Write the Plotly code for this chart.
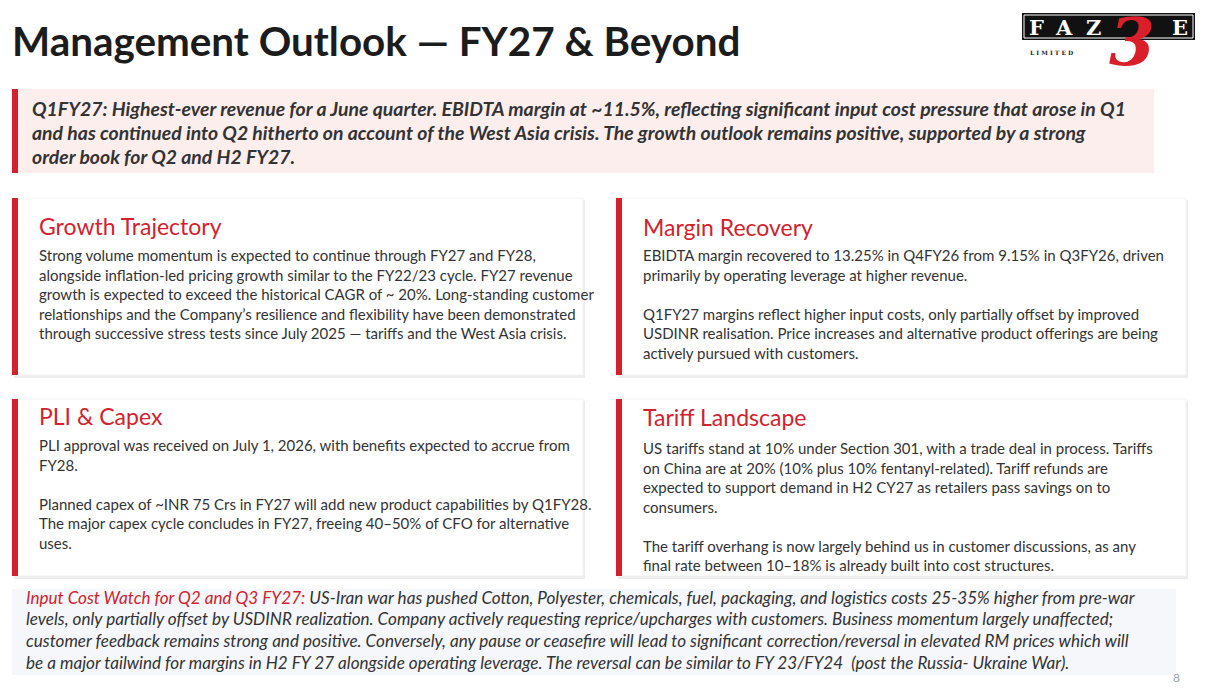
import plotly.graph_objects as go

W, H = 1205, 690

TITLE = "Management Outlook \u2014 FY27 & Beyond"
PAGE_NO = "8"

HIGHLIGHT_LINES = [
    "Q1FY27: Highest-ever revenue for a June quarter. EBIDTA margin at ~11.5%, reflecting significant input cost pressure that arose in Q1",
    "and has continued into Q2 hitherto on account of the West Asia crisis. The growth outlook remains positive, supported by a strong",
    "order book for Q2 and H2 FY27.",
]

CARD_TITLES = ["Growth Trajectory", "Margin Recovery", "PLI & Capex", "Tariff Landscape"]

CARD_LINES = [
    [
        "Strong volume momentum is expected to continue through FY27 and FY28,",
        "alongside inflation-led pricing growth similar to the FY22/23 cycle. FY27 revenue",
        "growth is expected to exceed the historical CAGR of ~ 20%. Long-standing customer",
        "relationships and the Company\u2019s resilience and flexibility have been demonstrated",
        "through successive stress tests since July 2025 \u2014 tariffs and the West Asia crisis.",
    ],
    [
        "EBIDTA margin recovered to 13.25% in Q4FY26 from 9.15% in Q3FY26, driven",
        "primarily by operating leverage at higher revenue.",
        "",
        "Q1FY27 margins reflect higher input costs, only partially offset by improved",
        "USDINR realisation. Price increases and alternative product offerings are being",
        "actively pursued with customers.",
    ],
    [
        "PLI approval was received on July 1, 2026, with benefits expected to accrue from",
        "FY28.",
        "",
        "Planned capex of ~INR 75 Crs in FY27 will add new product capabilities by Q1FY28.",
        "The major capex cycle concludes in FY27, freeing 40\u201350% of CFO for alternative",
        "uses.",
    ],
    [
        "US tariffs stand at 10% under Section 301, with a trade deal in process. Tariffs",
        "on China are at 20% (10% plus 10% fentanyl-related). Tariff refunds are",
        "expected to support demand in H2 CY27 as retailers pass savings on to",
        "consumers.",
        "",
        "The tariff overhang is now largely behind us in customer discussions, as any",
        "final rate between 10\u201318% is already built into cost structures.",
    ],
]

FOOT_LEAD = "Input Cost Watch for Q2 and Q3 FY27:"
FOOT_LINES = [
    " US-Iran war has pushed Cotton, Polyester, chemicals, fuel, packaging, and logistics costs 25-35% higher from pre-war",
    "levels, only partially offset by USDINR realization. Company actively requesting reprice/upcharges with customers. Business momentum largely unaffected;",
    "customer feedback remains strong and positive. Conversely, any pause or ceasefire will lead to significant correction/reversal in elevated RM prices which will",
    "be a major tailwind for margins in H2 FY 27 alongside operating leverage. The reversal can be similar to FY 23/FY24  (post the Russia- Ukraine War).",
]

LOGO_LETTERS = ["F", "A", "Z", "E"]
LOGO_SUB = "L I M I T E D"
LOGO_NUM = "3"

RED = "#d1222e"
TXT = "#333333"
FONT = "Lato"

fig = go.Figure()
shapes = []
ann = []


def rect(x0, y0, x1, y1, fill, line=None, lw=0):
    shapes.append(dict(type="rect", xref="x", yref="y", x0=x0, y0=y0, x1=x1, y1=y1,
                       fillcolor=fill, line=dict(width=lw, color=line or fill), layer="below"))


def text(x, y, s, size, color=TXT, weight="normal", style="normal", family=FONT,
         xanchor="left"):
    ann.append(dict(x=x, y=y, xref="x", yref="y", text=s, showarrow=False,
                    xanchor=xanchor, yanchor="middle", align="left",
                    font=dict(family=family, size=size, color=color, weight=weight, style=style)))


# title
text(10, 40, TITLE, 40.4, color="#1c1c1c", weight="bold")

# logo
rect(1022, 13, 1195, 40, "#111111")
rect(1024, 15, 1193, 38, "#111111", line="#ffffff", lw=1)
for lx, ch in zip([1036, 1064, 1093, 1180], LOGO_LETTERS):
    text(lx, 27, ch, 21, color="#ffffff", weight="bold", family="DejaVu Serif", xanchor="center")
text(1028, 52, LOGO_SUB, 6, color="#222222", weight="bold", family="DejaVu Serif")
text(1132, 42, LOGO_NUM, 66, color="#d81f2a", weight="bold", style="italic",
     family="DejaVu Serif", xanchor="center")

# highlight box
rect(12, 89, 1154, 173, "#fdeeee")
rect(12, 89, 18, 173, RED)
for i, s in enumerate(HIGHLIGHT_LINES):
    text(30, 108 + 24.2 * i, s, 19.4, weight="bold", style="italic")

# cards
cards = [
    (12, 198, 583, 375, 226, 255, 19.6),
    (616, 198, 1186, 375, 227, 255, 19.6),
    (12, 399, 583, 576, 416, 445, 19.6),
    (616, 399, 1186, 576, 417, 448, 19.5),
]
for (x0, y0, x1, y1, ty, by, lh), title, lines in zip(cards, CARD_TITLES, CARD_LINES):
    rect(x0 + 2, y0 + 2, x1 + 2, y1 + 3, "#ececec")
    rect(x0, y0, x1, y1, "#ffffff", line="#f3f3f3", lw=1)
    rect(x0, y0, x0 + 6, y1, RED)
    text(x0 + 25, ty, title, 23, color=RED)
    for i, s in enumerate(lines):
        if s:
            text(x0 + 25, by + lh * i, s, 15)

# footer box
rect(12, 589, 1176, 675, "#f5f7fa")
for i, s in enumerate(FOOT_LINES):
    if i == 0:
        s = "<span style='color:%s'>%s</span>%s" % (RED, FOOT_LEAD, s)
    text(24, 597 + 21.7 * i, s, 17.1, style="italic")

text(1176, 677, PAGE_NO, 12, color="#9aa3ad", xanchor="center")

fig.update_layout(
    width=W, height=H, margin=dict(l=0, r=0, t=0, b=0),
    paper_bgcolor="#ffffff", plot_bgcolor="#ffffff",
    xaxis=dict(range=[0, W], visible=False, fixedrange=True),
    yaxis=dict(range=[H, 0], visible=False, fixedrange=True),
    shapes=shapes, annotations=ann, showlegend=False,
)
fig.write_html("out.html", config={"displayModeBar": False},
               post_script="document.body.style.margin='0';")
